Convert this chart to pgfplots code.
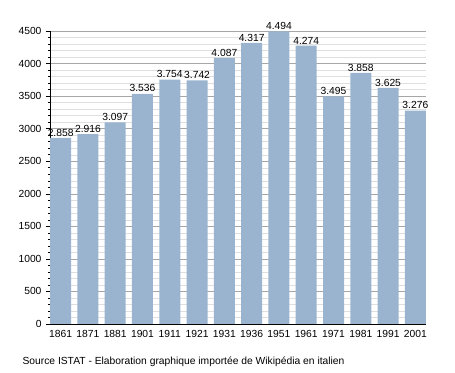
\documentclass[border=0pt]{standalone}
\usepackage{fontspec}
\setmainfont{Liberation Sans}
\usepackage{pgfplots}
\pgfplotsset{compat=1.18}
\definecolor{barblue}{RGB}{154,180,208}
\begin{document}
\begin{tikzpicture}[font=\fontsize{10.3bp}{12bp}\selectfont]
\path[use as bounding box] (-50bp,-49bp) rectangle (405bp,324bp);
\begin{axis}[
  at={(0,0)}, anchor=south west,
  scale only axis, width=376bp, height=293bp,
  ymin=0, ymax=4500, ytick={0,500,...,4500}, minor y tick num=4,
  xmin=-0.39, xmax=13.39,
  xtick={0,...,13},
  xticklabels={1861,1871,1881,1901,1911,1921,1931,1936,1951,1961,1971,1981,1991,2001},
  axis x line*=bottom, axis y line*=left,
  axis line style={black, line width=0.8pt, -},
  xtick style={draw=none},
  ytick style={black, line width=0.5pt},
  tick align=outside,
  major tick length=4bp, minor tick length=2bp,
  ymajorgrids, yminorgrids,
  major grid style={gray!70, line width=0.5pt},
  minor grid style={gray!25, line width=0.4pt},
  /pgf/number format/assume math mode=true,
  yticklabel style={/pgf/number format/1000 sep={}, xshift=-1bp},
  xticklabel style={yshift=1bp},
  ybar, bar width=21bp, bar shift=0pt,
  nodes near coords,
  nodes near coords style={black, font=\fontsize{10.3bp}{12bp}\selectfont, /pgf/number format/1000 sep={.}, /pgf/number format/assume math mode=true, inner sep=1.5bp},
]
\addplot[fill=barblue, draw=none] coordinates {
(0,2858) (1,2916) (2,3097) (3,3536) (4,3754) (5,3742) (6,4087)
(7,4317) (8,4494) (9,4274) (10,3495) (11,3858) (12,3625) (13,3276)
};
\end{axis}
\node[anchor=west, font=\fontsize{10.3bp}{12bp}\selectfont] at (-31bp,-38bp) {Source ISTAT - Elaboration graphique importée de Wikipédia en italien};
\end{tikzpicture}
\end{document}
